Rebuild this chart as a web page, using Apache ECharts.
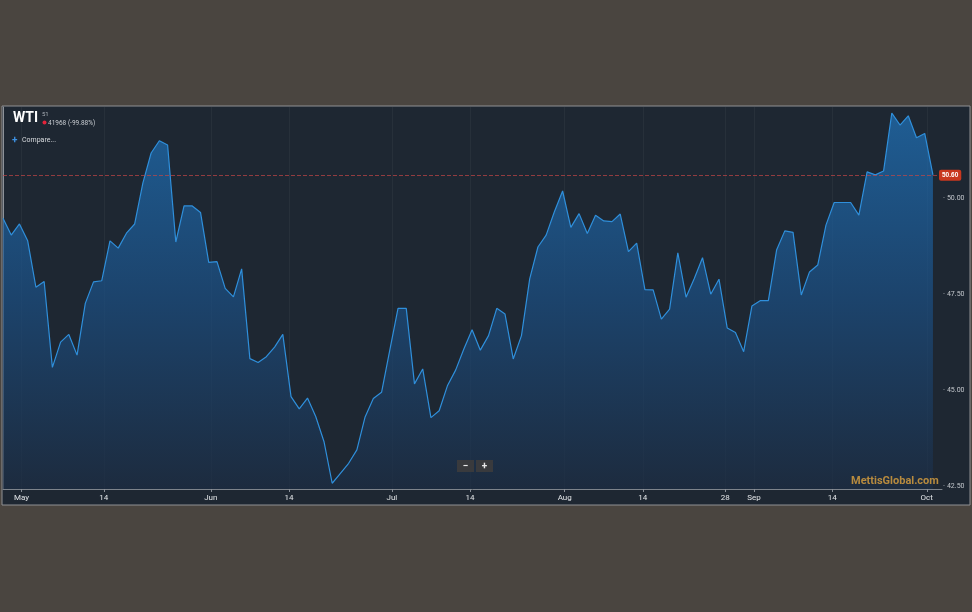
<!DOCTYPE html>
<html>
<head>
<meta charset="utf-8">
<script src="https://cdn.jsdelivr.net/npm/echarts@6.0.0/dist/echarts.min.js"></script>
<style>
html,body{margin:0;padding:0;background:#4a4540;}
#chart{width:972px;height:612px;}
</style>
</head>
<body>
<div id="chart"></div>
<script>
// WTI daily closes (weekdays, 26 Apr - 2 Oct)
const prices = [
  49.48, 49.04, 49.33, 48.89, 47.68, 47.83, 45.59, 46.25, 46.45, 45.91,
  47.26, 47.82, 47.85, 48.89, 48.70, 49.09, 49.33, 50.40, 51.18, 51.50,
  51.39, 48.86, 49.80, 49.80, 49.63, 48.33, 48.35, 47.65, 47.43, 48.16,
  45.82, 45.72, 45.87, 46.12, 46.45, 44.83, 44.51, 44.79, 44.31, 43.66,
  42.57, 42.83, 43.09, 43.44, 44.30, 44.78, 44.94, 46.04, 47.13, 47.13,
  45.16, 45.55, 44.28, 44.46, 45.11, 45.52, 46.07, 46.57, 46.04, 46.42,
  47.13, 46.98, 45.81, 46.42, 47.90, 48.73, 49.04, 49.65, 50.19, 49.24,
  49.60, 49.08, 49.56, 49.41, 49.39, 49.59, 48.61, 48.83, 47.62, 47.61,
  46.85, 47.11, 48.58, 47.42, 47.91, 48.45, 47.50, 47.89, 46.62, 46.50,
  46.00, 47.19, 47.33, 47.33, 48.65, 49.15, 49.11, 47.48, 48.08, 48.26,
  49.30, 49.89, 49.89, 49.89, 49.56, 50.69, 50.61, 50.71, 52.22, 51.91,
  52.15, 51.58, 51.69, 50.61
];
// x-axis ticks (position in trading-day index units) and their labels
const xTickPositions = [2.25, 12.25, 25.25, 34.75, 47.25, 56.75, 68.25, 77.75, 87.75, 91.25, 100.75, 112.25];
const xTickLabels = ['May', '14', 'Jun', '14', 'Jul', '14', 'Aug', '14', '28', 'Sep', '14', 'Oct'];
// y-axis ticks
const yTicks = [42.5, 45, 47.5, 50];
const lastPrice = 50.60;
const titleText = 'WTI';
const subText = '41968 (-99.88%)';

const chart = echarts.init(document.getElementById('chart'), null, {renderer: 'canvas'});

const seriesData = prices.map((v, i) => [i, v]);

const option = {
  backgroundColor: '#4a4540',
  animation: false,
  grid: {left: 3, right: 30, top: 107, bottom: 123},
  xAxis: {
    type: 'value',
    min: 0,
    max: 114.1,
    axisLine: {show: true, lineStyle: {color: '#7d838b', width: 1}},
    axisTick: {show: true, customValues: xTickPositions, length: 3, lineStyle: {color: '#8a9098'}},
    axisLabel: {
      customValues: xTickPositions,
      color: '#e2e5e8',
      fontSize: 8,
      fontFamily: 'Roboto',
      margin: 5,
      formatter: function (v) {
        for (let i = 0; i < xTickPositions.length; i++) {
          if (Math.abs(xTickPositions[i] - v) < 0.01) return xTickLabels[i];
        }
        return '';
      }
    },
    splitLine: {show: true, lineStyle: {color: 'rgba(255,255,255,0.045)', width: 1}}
  },
  yAxis: {
    type: 'value',
    position: 'right',
    min: 42.42,
    max: 52.38,
    axisLine: {show: true, lineStyle: {color: '#8d9299', width: 1}},
    axisTick: {show: false},
    axisLabel: {
      customValues: yTicks,
      color: '#c3c7cc',
      fontSize: 7,
      fontFamily: 'Roboto',
      margin: 1,
      formatter: v => '{d|-}' + v.toFixed(2),
      rich: {d: {color: '#8d9299', fontSize: 7, padding: [0, 2, 0, 0]}}
    },
    splitLine: {show: false}
  },
  series: [{
    type: 'line',
    data: seriesData,
    showSymbol: false,
    symbol: 'none',
    lineStyle: {color: '#2f8fdb', width: 1.2},
    areaStyle: {
      color: new echarts.graphic.LinearGradient(0, 0, 0, 1, [
        {offset: 0, color: '#1f74bd'},
        {offset: 0.5, color: '#1b4f84'},
        {offset: 1, color: '#1c2d44'}
      ])
    },
    markLine: {
      silent: true,
      symbol: 'none',
      data: [{yAxis: lastPrice}],
      lineStyle: {type: 'dashed', color: 'rgba(195,70,70,0.7)', width: 1},
      label: {
        show: true,
        position: 'end',
        formatter: lastPrice.toFixed(2),
        backgroundColor: '#c9381f',
        color: '#ffffff',
        fontSize: 6.5,
        fontWeight: 'bold',
        padding: [2, 3, 2, 3],
        borderRadius: 2,
        distance: -3
      }
    },
    z: 3
  }],
  graphic: [
    {type: 'rect', z: -10, shape: {x: 2, y: 106, width: 968, height: 399},
     style: {fill: '#1e2732', stroke: '#8f9193', lineWidth: 1}},
    {type: 'text', z: 20, x: 13, y: 111,
     style: {text: titleText, fill: '#ffffff', font: 'bold 14px Roboto'}},
    {type: 'text', z: 20, x: 42, y: 111,
     style: {text: '51', fill: '#a9afb6', font: '6px Roboto'}},
    {type: 'circle', z: 20, shape: {cx: 44.5, cy: 122.5, r: 2}, style: {fill: '#e3243a'}},
    {type: 'text', z: 20, x: 48, y: 119.5,
     style: {text: subText, fill: '#c9cdd2', font: '6.5px Roboto'}},
    {type: 'text', z: 20, x: 12, y: 135,
     style: {text: '+', fill: '#3d90e0', font: 'bold 10px Roboto'}},
    {type: 'text', z: 20, x: 22, y: 136.5,
     style: {text: 'Compare...', fill: '#d9dcdf', font: '7px Roboto'}},
    {type: 'rect', z: 20, shape: {x: 457, y: 460, width: 17, height: 12}, style: {fill: '#393a3d'}},
    {type: 'rect', z: 20, shape: {x: 476, y: 460, width: 17, height: 12}, style: {fill: '#393a3d'}},
    {type: 'text', z: 21, x: 465.5, y: 466, style: {text: '−', fill: '#e8e8e8', font: 'bold 10px Roboto', align: 'center', verticalAlign: 'middle'}},
    {type: 'text', z: 21, x: 484.5, y: 466, style: {text: '+', fill: '#e8e8e8', font: 'bold 10px Roboto', align: 'center', verticalAlign: 'middle'}},
    {type: 'text', z: 21, x: 851, y: 476,
     style: {text: 'MettisGlobal.com', fill: '#b88b3e', font: 'bold 11px Roboto', shadowColor: 'rgba(0,0,0,0.5)', shadowBlur: 1}}
  ]
};

chart.setOption(option);
</script>
</body>
</html>
